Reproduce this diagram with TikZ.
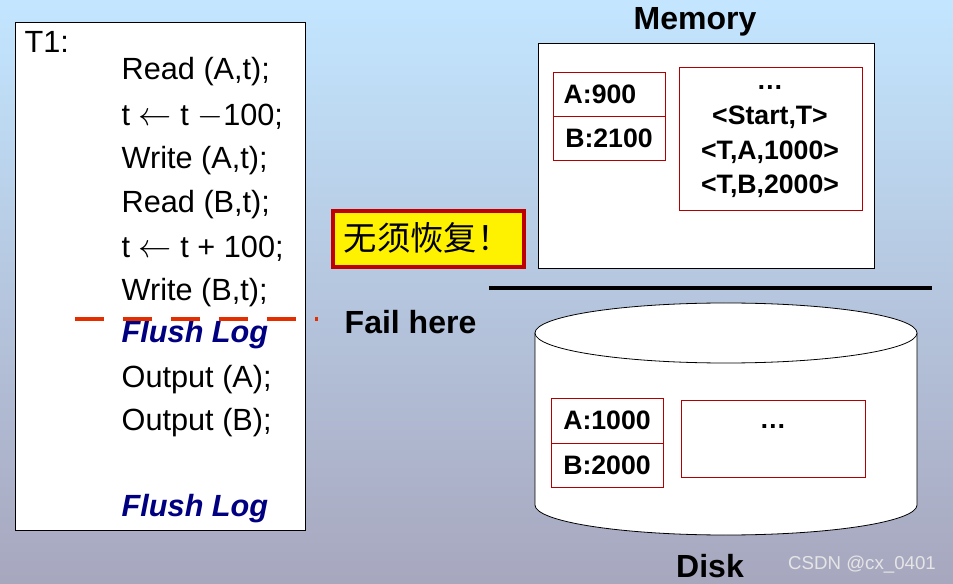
\documentclass[tikz,border=0pt]{standalone}
\usepackage{fontspec}
\setmainfont{Liberation Sans}
\newfontfamily\cjk{Noto Sans CJK SC}
\begin{document}
\begin{tikzpicture}[x=0.75pt,y=-0.75pt,
  code/.style={anchor=west,font=\fontsize{23}{23}\selectfont},
  flush/.style={code,font=\fontsize{23}{23}\selectfont\bfseries\itshape,text=blue!50!black},
  cell/.style={draw=red!70!black,fill=white,line width=0.6pt},
  bt/.style={font=\fontsize{20}{24}\selectfont\bfseries},
  lbl/.style={font=\fontsize{24}{24}\selectfont\bfseries}]
\shade[top color=cyan!15!white!90!blue,bottom color=blue!15!gray!60!white] (0,0) rectangle (953,584);
\useasboundingbox (0,0) rectangle (953,584);
% left program box
\draw[fill=white,line width=0.6pt] (15,22) rectangle (305,530);
\node[code] (t1) at (20,42) {T1:};
\node[code] (l1) at (117,72) {Read (A,t);};
\node[code] (l2) at (117,117) {t $\leftarrow$ t $-$100;};
\node[code] (l3) at (117,161) {Write (A,t);};
\node[code] (l4) at (117,205) {Read (B,t);};
\node[code] (l5) at (117,249) {t $\leftarrow$ t + 100;};
\node[code] (l6) at (117,293) {Write (B,t);};
\node[flush] (l7) at (117,335) {Flush Log};
\node[code] (l8) at (117,380) {Output (A);};
\node[code] (l9) at (117,423) {Output (B);};
\node[flush] (l10) at (117,509) {Flush Log};
\coordinate (f1) at (75,319); \coordinate (f2) at (318,319);
\draw[line width=3.5pt,draw=red!60!orange!90!black,dash pattern=on 22pt off 14pt] (f1) -- (f2);
\node[lbl,anchor=west] (fail) at (340,322) {Fail here};
% yellow box
\draw[draw=red!75!black,line width=2.5pt,fill=yellow] (333,211) rectangle (524,267);
\node[font=\cjk\fontsize{25}{25}\selectfont] (msgt) at (427,238) {无须恢复！};
% memory
\node[lbl] (memlbl) at (695,22) {Memory};
\draw[fill=white,line width=0.6pt] (538,43) rectangle (874,268);
\draw[cell] (553,72) rectangle (665,116);
\draw[cell] (553,116) rectangle (665,160);
\node[bt] (ma) at (600,94) {A:900};
\node[bt] (mb) at (609,138) {B:2100};
\draw[cell] (679,67) rectangle (862,210);
\node[bt,align=center] (mlog) at (770,142) {\dots\\[2pt]<Start,T>\\[2pt]<T,A,1000>\\[2pt]<T,B,2000>};
\coordinate (h1) at (489,288); \coordinate (h2) at (932,288);
\draw[line width=3.5pt] (h1) -- (h2);
% disk
\draw[fill=white,line width=0.6pt] (535,333) -- (535,505) arc[start angle=180,end angle=0,x radius=191,y radius=30] -- (917,333);
\draw[fill=white,line width=0.6pt] (726,333) ellipse [x radius=191,y radius=30];
\draw[cell] (551,398) rectangle (663,443);
\draw[cell] (551,443) rectangle (663,487);
\node[bt] (da) at (607,420) {A:1000};
\node[bt] (db) at (607,465) {B:2000};
\draw[cell] (681,400) rectangle (865,477);
\node[bt] (dlog) at (773,427) {\dots};
\node[lbl] (disk) at (710,566) {Disk};
\node[font=\fontsize{14}{14}\selectfont,text=white!80!gray] (wm) at (862,565) {CSDN @cx\_0401};
\end{tikzpicture}
\end{document}
